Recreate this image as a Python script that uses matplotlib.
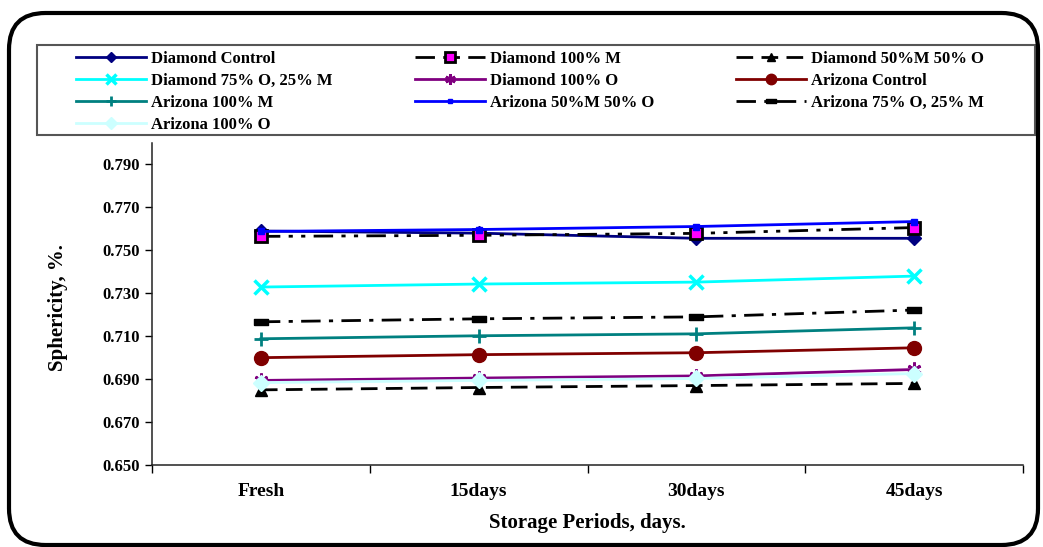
"""
Sphericity of Diamond and Arizona samples over the storage period.
"""

import numpy as np
import matplotlib
matplotlib.use('Agg')
import matplotlib.pyplot as plt
from matplotlib.patches import FancyBboxPatch, Rectangle

plt.rcParams['font.family'] = ['Liberation Serif', 'DejaVu Serif']
plt.rcParams['font.weight'] = 'bold'

# Data
periods = ['Fresh', '15days', '30days', '45days']
y_ticks = [0.650, 0.670, 0.690, 0.710, 0.730, 0.750, 0.770, 0.790]

diamond_control = [0.7590, 0.7580, 0.7556, 0.7556]
diamond_100m = [0.7565, 0.7570, 0.7579, 0.7606]
diamond_50m_50o = [0.6850, 0.6861, 0.6870, 0.6880]
diamond_75o_25m = [0.7329, 0.7343, 0.7352, 0.7380]
diamond_100o = [0.6894, 0.6905, 0.6915, 0.6945]
arizona_control = [0.7000, 0.7014, 0.7023, 0.7046]
arizona_100m = [0.7088, 0.7102, 0.7111, 0.7139]
arizona_50m_50o = [0.7588, 0.7597, 0.7611, 0.7634]
arizona_75o_25m = [0.7167, 0.7181, 0.7190, 0.7222]
arizona_100o = [0.6884, 0.6894, 0.6903, 0.6926]

# Marker shaped like a short thick dash
dash_marker = [(-1, -0.45), (1, -0.45), (1, 0.45), (-1, 0.45), (-1, -0.45)]

series = [
    ('Diamond Control', diamond_control,
     dict(color='#000080', ls='-', marker='D', ms=7, mfc='#000080', mec='#000080')),
    ('Diamond 100% M', diamond_100m,
     dict(color='black', ls=(0, (7, 3, 1.5, 3, 1.5, 3)), marker='s', ms=9,
          mfc='#FF00FF', mec='black', mew=2)),
    ('Diamond 50%M 50% O', diamond_50m_50o,
     dict(color='black', ls=(0, (6, 3)), marker='^', ms=8, mfc='black', mec='black')),
    ('Diamond 75% O, 25% M', diamond_75o_25m,
     dict(color='#00FFFF', ls='-', marker='x', ms=10, mew=2.5)),
    ('Diamond 100% O', diamond_100o,
     dict(color='#800080', ls='-', marker=(6, 2, 0), ms=10, mew=2, mec='#800080')),
    ('Arizona Control', arizona_control,
     dict(color='#800000', ls='-', marker='o', ms=10, mfc='#800000', mec='#800000')),
    ('Arizona 100% M', arizona_100m,
     dict(color='#008080', ls='-', marker='+', ms=10, mew=2)),
    ('Arizona 50%M 50% O', arizona_50m_50o,
     dict(color='#0000FF', ls='-', marker='s', ms=4, mfc='#0000FF', mec='#0000FF')),
    ('Arizona 75% O, 25% M', arizona_75o_25m,
     dict(color='black', ls=(0, (7, 3, 1.5, 3)), marker=dash_marker, ms=10,
          mfc='black', mec='black')),
    ('Arizona 100% O', arizona_100o,
     dict(color='#CCFFFF', ls='-', marker='D', ms=8, mfc='#CCFFFF', mec='#CCFFFF')),
]

fig = plt.figure(figsize=(10.43, 5.47), dpi=100)
W, H = 1043.0, 547.0
ax = fig.add_axes([152 / W, 1 - 465 / H, (1023 - 152) / W, (465 - 143) / H])

x = np.arange(len(periods)) + 0.5
handles = []
for label, values, style in series:
    line, = ax.plot(x, values, label=label, lw=2, **style)
    handles.append(line)

# Axes setup
ax.set_xlim(0, len(periods))
ax.set_ylim(0.650, 0.800)
ax.set_yticks(y_ticks)
ax.set_yticklabels([f'{v:.3f}' for v in y_ticks])
ax.set_xticks(np.arange(len(periods) + 1))
ax.set_xticklabels([])
ax.set_xticks(x, minor=True)
ax.set_xticklabels(periods, minor=True)
ax.tick_params(axis='x', which='major', length=6, width=1, direction='out')
ax.tick_params(axis='x', which='minor', length=0, pad=13, labelsize=14)
ax.tick_params(axis='y', length=5, width=1, direction='out', labelsize=12, pad=4)
for side in ['top', 'right']:
    ax.spines[side].set_visible(False)
for side in ['left', 'bottom']:
    ax.spines[side].set_linewidth(1.1)
    ax.spines[side].set_color('#222222')

ax.set_xlabel('Storage Periods, days.', fontsize=15, fontweight='bold', labelpad=9)
ax.set_ylabel('Sphericity, %.', fontsize=15, fontweight='bold')
ax.yaxis.set_label_coords(-0.097, 0.49)

# Legend frame and legend (row-wise order as in the original)
fig.patches.append(Rectangle((37 / W, 1 - 135 / H), (1035 - 37) / W, (135 - 45) / H,
                             transform=fig.transFigure, fill=False,
                             edgecolor='#555555', lw=1.5))
order = [0, 3, 6, 9, 1, 4, 7, 2, 5, 8]
fig.legend([handles[i] for i in order], [series[i][0] for i in order],
           loc='upper left', bbox_to_anchor=(68 / W, 1 - 43 / H), ncol=3,
           frameon=False, borderpad=0, handlelength=4.2, handletextpad=0.3,
           columnspacing=4.9, labelspacing=0.36, markerscale=0.75,
           prop=dict(size=12, weight='bold'))

# Outer rounded border
fig.patches.append(FancyBboxPatch((9 / W, 1 - 545 / H), (1038 - 9) / W, (545 - 13) / H,
                                  boxstyle='round,pad=0,rounding_size=0.035',
                                  mutation_aspect=W / H, transform=fig.transFigure,
                                  fill=False, edgecolor='black', lw=3))

plt.savefig('out.png', dpi=100)
plt.close()
